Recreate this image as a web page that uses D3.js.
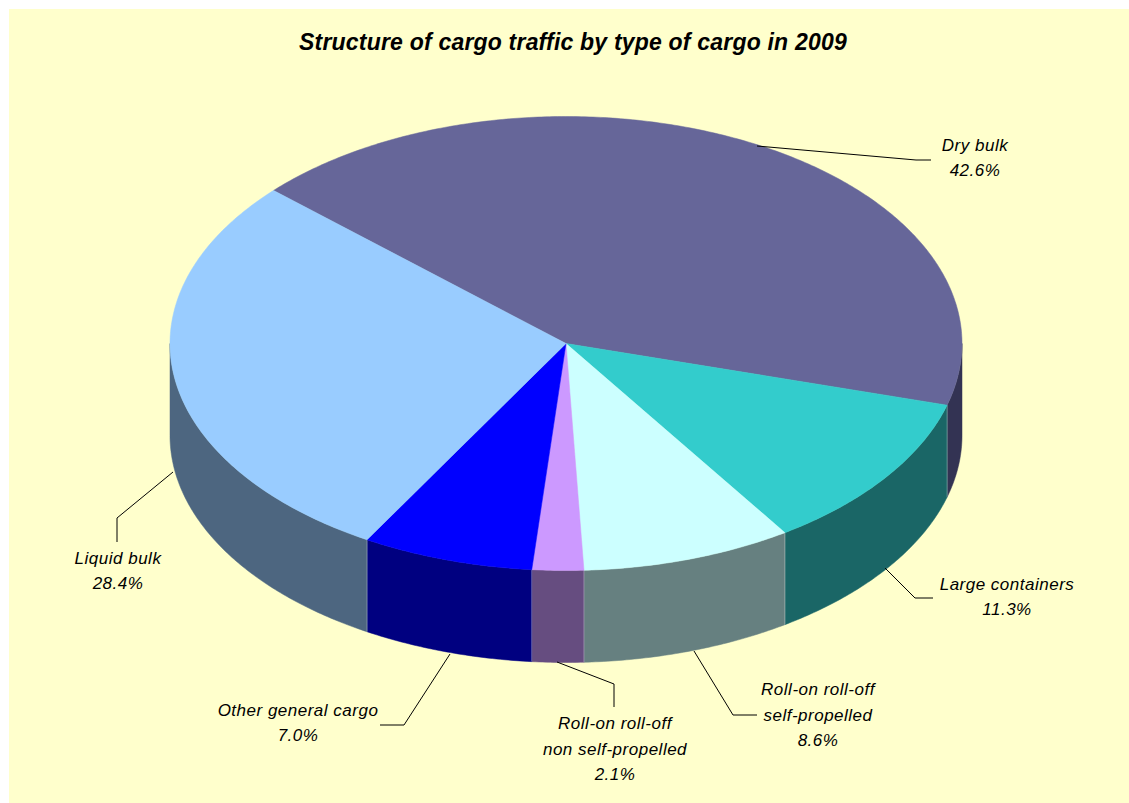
<!DOCTYPE html>
<html>
<head>
<meta charset="utf-8">
<script src="https://cdn.jsdelivr.net/npm/d3@7/dist/d3.min.js"></script>
<style>
html,body{margin:0;padding:0;background:#fff;overflow:hidden}
svg{display:block}
text{font-family:"Liberation Sans",Arial,sans-serif;fill:#000}
</style>
</head>
<body>
<svg id="chart" width="1129" height="803"></svg>
<script>
const chartTitle = "Structure of cargo traffic by type of cargo in 2009";
const categories = ["Dry bulk","Large containers","Roll-on roll-off self-propelled","Roll-on roll-off non self-propelled","Other general cargo","Liquid bulk"];
const shares = [42.6,11.3,8.6,2.1,7.0,28.4];
const topColors = ["#666699","#33CCCC","#CCFFFF","#CC99FF","#0000FF","#99CCFF"];
const sideColors = ["#333353","#1A6666","#668080","#664D80","#000080","#4D6680"];
const labelLines = [["Dry bulk"],["Large containers"],["Roll-on roll-off","self-propelled"],["Roll-on roll-off","non self-propelled"],["Other general cargo"],["Liquid bulk"]];
const labelCentres = [[975,157.5],[1007,596.5],[818,714.5],[615,748.5],[298,722.5],[118,570.5]];
const leaderPaths = [
  [[757,146],[916,160],[931,160]],
  [[885,568],[915,598],[933,598]],
  [[694,651],[733,715],[757,715]],
  [[557,662],[614,684],[614,707]],
  [[450,654],[404,725],[380,725]],
  [[173,472],[117,518],[117,542]]
];

const svg = d3.select("#chart");
svg.append("rect").attr("x",9).attr("y",9).attr("width",1120).attr("height",794).attr("fill","#FFFFCC");

const cx = 566, cy = 343.5, rx = 396, ry = 227, depth = 92;
const sx = d3.scaleLinear().domain([-1,1]).range([cx-rx,cx+rx]);
const sy = d3.scaleLinear().domain([-1,1]).range([cy-ry,cy+ry]);
const startDeg = -47.6;
const pie = d3.pie().sort(null).value(d=>d)
  .startAngle(startDeg*Math.PI/180).endAngle((startDeg+360)*Math.PI/180);
const arcs = pie(shares);

const pt = (t,dz=0)=>[sx(Math.sin(t)), sy(-Math.cos(t))+dz];
const steps = (a,b)=>{const n=Math.max(2,Math.ceil(Math.abs(b-a)/0.01));return d3.range(n+1).map(i=>a+(b-a)*i/n);};
const line = d3.line();

// visible side walls: the front half of the rim, angles 90..270 degrees
const g = svg.append("g");
const lo = Math.PI/2, hi = 3*Math.PI/2;
const sideParts = [];
arcs.forEach((d,i)=>{
  [0,2*Math.PI,-2*Math.PI].forEach(off=>{
    const a = Math.max(d.startAngle+off,lo), b = Math.min(d.endAngle+off,hi);
    if (b>a) sideParts.push({a,b,i});
  });
});
g.selectAll("path.side").data(sideParts).join("path").attr("class","side")
  .attr("d",p=>{
    const top = steps(p.a,p.b).map(t=>pt(t));
    const bot = steps(p.b,p.a).map(t=>pt(t,depth));
    return line(top.concat(bot))+"Z";
  })
  .attr("fill",p=>sideColors[p.i]).attr("stroke",p=>sideColors[p.i]).attr("stroke-width",0.5);

// light seams between neighbouring side walls
const seams = arcs.map(d=>d.endAngle).map(t=>((t%(2*Math.PI))+2*Math.PI)%(2*Math.PI)).filter(t=>t>lo&&t<hi);
g.selectAll("line.seam").data(seams).join("line").attr("class","seam")
  .attr("x1",t=>pt(t)[0]).attr("y1",t=>pt(t)[1])
  .attr("x2",t=>pt(t,depth)[0]).attr("y2",t=>pt(t,depth)[1])
  .attr("stroke","#fff").attr("stroke-opacity",0.3).attr("stroke-width",1);

// top face
g.selectAll("path.top").data(arcs).join("path").attr("class","top")
  .attr("d",d=>line([[cx,cy]].concat(steps(d.startAngle,d.endAngle).map(t=>pt(t))))+"Z")
  .attr("fill",(d,i)=>topColors[i]).attr("stroke",(d,i)=>topColors[i]).attr("stroke-width",0.5);

// leaders
svg.selectAll("path.leader").data(leaderPaths).join("path").attr("class","leader")
  .attr("d",d=>line(d)).attr("fill","none").attr("stroke","#000").attr("stroke-width",1);

// labels
categories.forEach((c,i)=>{
  const rows = labelLines[i].concat([shares[i].toFixed(1)+"%"]);
  const [x,yc] = labelCentres[i];
  const h = 25.5;
  const y0 = yc - (rows.length-1)*h/2 + 6;
  const t = svg.append("text").attr("text-anchor","middle").attr("font-style","italic")
    .attr("font-size",17).attr("letter-spacing",0.5);
  rows.forEach((r,k)=>t.append("tspan").attr("x",x).attr("y",y0+k*h).text(r));
});

svg.append("text").attr("x",573).attr("y",50).attr("text-anchor","middle")
  .attr("font-size",23).attr("letter-spacing",0.2).attr("font-weight","bold").attr("font-style","italic").text(chartTitle);
</script>
</body>
</html>
